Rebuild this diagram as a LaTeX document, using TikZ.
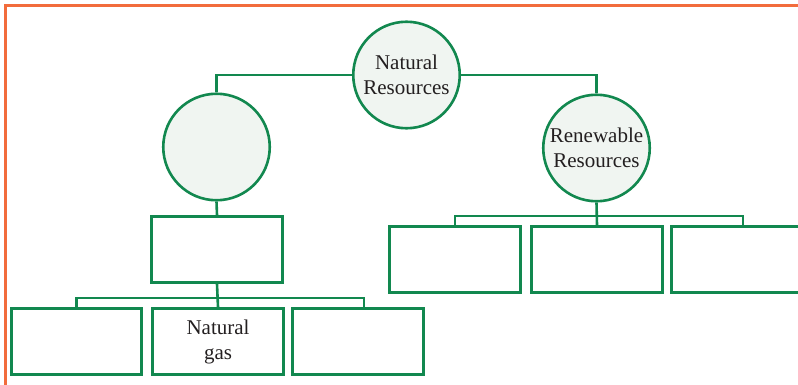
\documentclass[tikz,border=0pt]{standalone}
\usepackage{fontspec}
\setmainfont{Liberation Serif}
\definecolor{frameorange}{HTML}{F26C3C}
\definecolor{treegreen}{HTML}{12884F}
\definecolor{circfill}{HTML}{F0F5F1}
\definecolor{txtgray}{HTML}{231F20}
\tikzset{
  res/.style={circle,draw=treegreen,fill=circfill,line width=2.6pt,minimum size=106.5pt,inner sep=0pt,
    align=center,text=txtgray,font=\fontsize{21}{25}\selectfont},
  blank/.style={rectangle,draw=treegreen,line width=2.6pt,minimum width=130.5pt,minimum height=66.5pt,inner sep=0pt,
    align=center,text=txtgray,font=\fontsize{21}{25}\selectfont},
  link/.style={draw=treegreen,line width=2.6pt}
}
\begin{document}
\begin{tikzpicture}[x=1pt,y=-1pt]
        \useasboundingbox (0,0) rectangle (798,385);
        \draw[frameorange,line width=2.5pt](5.5,400)--(5.5,5.5)--(810,5.5);
        % circles
        \node[res] (nat) at (406.5,75) {Natural\\Resources};
        \node[res] (nonren) at (216.5,147) {};
        \node[res] (ren) at (596.5,148) {Renewable\\Resources};
        % boxes
        \node[blank] (lbox) at (217,249.5) {};
        \node[blank] (b1) at (76.5,341.5) {};
        \node[blank] (b2) at (218,341.5) {Natural\\gas};
        \node[blank] (b3) at (358,341.5) {};
        \node[blank] (r1) at (455,259.5) {};
        \node[blank] (r2) at (597,259.5) {};
        \node[blank] (r3) at (737,259.5) {};
        \coordinate (lbar) at (364,298);
        \coordinate (rbar) at (743,216);
        % connectors
        \draw[link](nat.west) -| (nonren.north);
        \draw[link](nat.east) -| (ren.north);
        \draw[link](nonren.south) -- (lbox.north);
        \draw[link](lbox.south) -- (b2.north);
        \draw[link](b1.north) |- (lbar) -- (lbar |- b3.north);
        \draw[link](ren.south) -- (r2.north);
        \draw[link](r1.north) |- (rbar) -- (rbar |- r3.north);
    \end{tikzpicture}
\end{document}
